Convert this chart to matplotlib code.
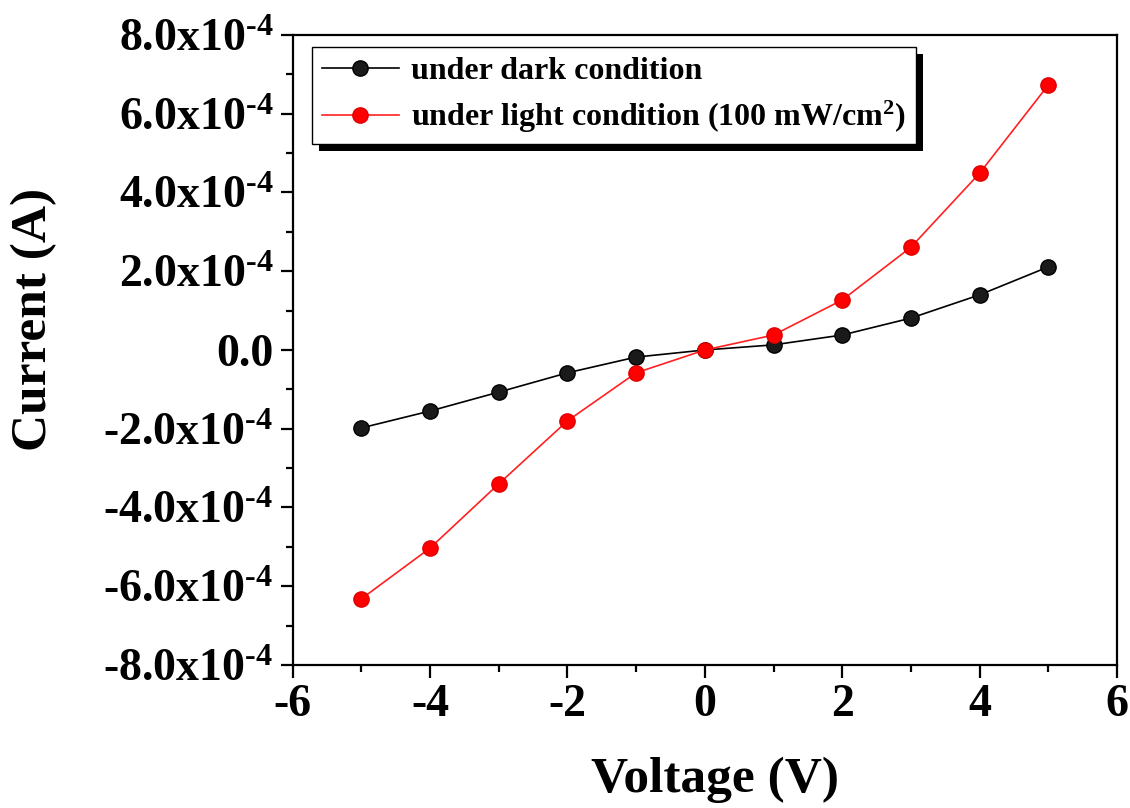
import matplotlib
matplotlib.use("Agg")
import matplotlib.pyplot as plt
from matplotlib.patches import Rectangle
from matplotlib.ticker import FuncFormatter, MultipleLocator

plt.rcParams["font.family"] = ["Liberation Serif", "DejaVu Serif"]
plt.rcParams["font.weight"] = "bold"
plt.rcParams["axes.unicode_minus"] = False
plt.rcParams["mathtext.fontset"] = "custom"
plt.rcParams["mathtext.rm"] = "Liberation Serif:bold"
plt.rcParams["mathtext.it"] = "Liberation Serif:bold"
plt.rcParams["mathtext.bf"] = "Liberation Serif:bold"
plt.rcParams["mathtext.default"] = "rm"

voltage = [-5, -4, -3, -2, -1, 0, 1, 2, 3, 4, 5]
dark = [-1.98e-4, -1.55e-4, -1.07e-4, -0.58e-4, -0.18e-4, 0.0,
        0.13e-4, 0.38e-4, 0.81e-4, 1.40e-4, 2.11e-4]
light = [-6.32e-4, -5.03e-4, -3.40e-4, -1.80e-4, -0.58e-4, 0.0,
         0.38e-4, 1.27e-4, 2.61e-4, 4.49e-4, 6.73e-4]
labels = ["under dark condition", "under light condition (100 mW/cm$^{2}$)"]


def sci_fmt(v, pos):
    if abs(v) < 1e-12:
        return "0.0"
    return f"{v / 1e-4:.1f}x10$^{{\\text{{-4}}}}$"


fig = plt.figure(figsize=(11.3, 8.08), dpi=100)
ax = fig.add_axes([0.259, 0.177, 0.7295, 0.7797])

ax.plot(voltage, dark, "-o", color="black", lw=1.2, ms=11,
        mfc="#1a1a1a", mec="black", label=labels[0], zorder=3)
ax.plot(voltage, light, "-o", color="#ff2020", lw=1.2, ms=11,
        mfc="#ff0000", mec="#e00000", label=labels[1], zorder=3)

ax.set_xlim(-6, 6)
ax.set_ylim(-8e-4, 8e-4)
ax.xaxis.set_major_locator(MultipleLocator(2))
ax.xaxis.set_minor_locator(MultipleLocator(1))
ax.yaxis.set_major_locator(MultipleLocator(2e-4))
ax.yaxis.set_minor_locator(MultipleLocator(1e-4))
ax.yaxis.set_major_formatter(FuncFormatter(sci_fmt))

ax.tick_params(which="both", direction="out", top=False, right=False, width=1.6)
ax.tick_params(which="major", length=9, labelsize=33, pad=5)
ax.tick_params(which="minor", length=5)
for s in ax.spines.values():
    s.set_linewidth(1.6)

ax.set_xlabel("Voltage (V)", fontsize=37, fontweight="bold")
ax.set_ylabel("Current (A)", fontsize=37, fontweight="bold")
ax.xaxis.set_label_coords(0.512, -0.145)
ax.yaxis.set_label_coords(-0.286, 0.548)

leg = ax.legend(loc="upper left", bbox_to_anchor=(0.024, 0.981), borderaxespad=0,
                fontsize=23, frameon=True, fancybox=False, framealpha=1,
                handlelength=2.4, labelspacing=0.4, borderpad=0.3,
                handletextpad=0.4)
leg.set_zorder(5)
frame = leg.get_frame()
frame.set_edgecolor("black")
frame.set_linewidth(1.0)

# Origin-style solid shadow behind the legend box
fig.canvas.draw()
bb = leg.get_window_extent()
shadow = Rectangle((bb.x0 + 7, bb.y0 - 7), bb.width, bb.height,
                   transform=None, facecolor="black", edgecolor="none", zorder=4)
ax.add_artist(shadow)

fig.savefig("out.png", dpi=100)
